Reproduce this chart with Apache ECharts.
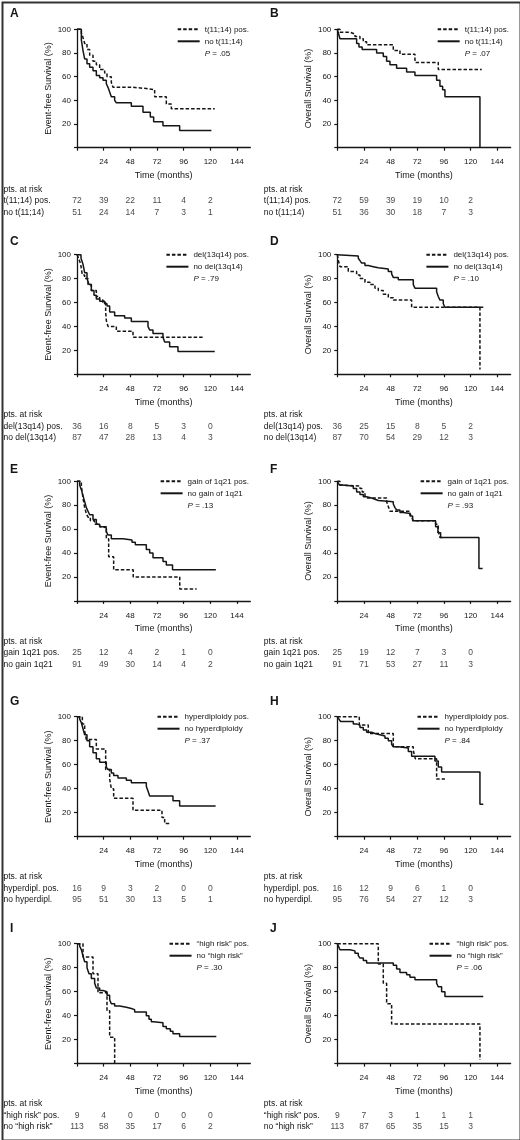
<!DOCTYPE html>
<html>
<head>
<meta charset="utf-8">
<script src="https://cdn.jsdelivr.net/npm/echarts@6/dist/echarts.min.js"></script>
<style>
  html, body { margin: 0; padding: 0; background: #fff; }
  #main { width: 520px; height: 1140px; }
</style>
</head>
<body>
<div id="main"></div>
<script>
// time points of the risk table (months)
var riskMonths = [0, 24, 48, 72, 96, 120];

// A: event-free survival, t(11;14)
var aPos = [[0,100],[3.9,97],[5.4,93],[6.9,88],[9,83],[11.4,78],[14.4,73],[17.4,70],[20.4,66],[24.9,63],[27,60],[30.9,55],[32.4,51],[50.4,50],[62.4,49],[69.9,43],[80.4,37],[84.9,33],[124,33]];
var aNeg = [[0,100],[3.9,91],[5.4,82],[6.9,75],[9,71],[11.4,68],[14.4,65],[17.4,61],[20.4,59],[23.4,57],[26.4,54],[27.9,51],[29.4,47],[30.9,43],[33.9,40],[35.4,38],[48.9,35],[59.4,30],[66,26],[69,22],[77.4,18.5],[92.4,14.5],[121,14.5]];
var aRiskPos = [72, 39, 22, 11, 4, 2];
var aRiskNeg = [51, 24, 14, 7, 3, 1];

// B: overall survival, t(11;14)
var bPos = [[0,100],[2.4,97.5],[11.4,96],[15.9,94],[20.4,92],[23.4,89.5],[26.4,87],[50.4,82],[56.4,79],[69.9,72],[90.9,66],[130,66]];
var bNeg = [[0,100],[1.2,96],[2.4,92],[17.4,88],[19.5,85],[22.4,83],[35.4,80],[41.4,77],[44.4,73],[47.4,70],[53.4,67],[62.4,64],[69.9,61],[89.4,57],[92.4,52],[94.8,49],[96.9,43],[128.4,43],[128.4,0]];
var bRiskPos = [72, 59, 39, 19, 10, 2];
var bRiskNeg = [51, 36, 30, 18, 7, 3];

// C: event-free survival, del(13q14)
var cPos = [[0,100],[1.5,97],[3.3,92],[4.8,83],[6.9,80],[9.9,75],[12.9,70],[17.4,65],[20.4,62],[23.4,60],[25.8,52],[26.4,45],[27.9,40],[35.4,36],[50.4,31],[113.4,31]];
var cNeg = [[0,100],[3.6,97],[5.4,92],[6.9,85],[9,80],[10.8,75],[12.9,70],[15.3,66],[17.4,63],[20.4,61],[24.9,59],[27,57],[29.4,52],[33.9,49],[42.9,47],[48.9,44],[63.9,40],[65.4,37],[68.4,34],[77.4,31],[78.9,27],[83.4,23],[90.9,19],[124,19]];
var cRiskPos = [36, 16, 8, 5, 3, 0];
var cRiskNeg = [87, 47, 28, 13, 4, 3];

// D: overall survival, del(13q14)
var dPos = [[0,100],[0.6,97],[1.5,93],[2.4,90],[9.9,86],[17.4,83],[20.4,80],[24.9,77],[29.4,75],[33.9,72],[36.9,70],[41.4,67],[45.9,64],[50.4,62],[66.9,56],[128.4,56],[128.4,4]];
var dNeg = [[0,100],[0.9,99],[18.9,97],[20.4,95],[21.9,93],[24.9,91],[27.9,90],[32.4,89],[36.9,88],[45.9,86],[48.9,84],[50.4,81],[54.9,79],[68.4,75],[69.9,72],[89.4,69],[90.9,65],[92.4,62],[95.4,59],[96.9,56],[131.4,56]];
var dRiskPos = [36, 25, 15, 8, 5, 2];
var dRiskNeg = [87, 70, 54, 29, 12, 3];

// E: event-free survival, gain of 1q21
var ePos = [[0,100],[3.9,96],[5.4,86],[6.9,78],[8.4,73],[9.9,70],[12,67],[15.9,64],[20.4,62],[26.4,52],[28.5,37],[33,26],[50.6,20],[92.5,10],[107.7,10]];
var eNeg = [[0,100],[2.4,97],[3.9,93],[5.4,88],[6.9,83],[8.4,78],[9.9,75],[11.4,72],[14.4,68],[17.4,64],[20.4,62],[24,61],[26.4,58],[27.9,55],[30.9,52],[41.4,51],[49.5,49],[52.5,47],[62.4,43],[65.4,40],[68.4,36],[77.4,33],[80.4,30],[86,26],[125,26]];
var eRiskPos = [25, 12, 4, 2, 1, 0];
var eRiskNeg = [91, 49, 30, 14, 4, 2];

// F: overall survival, gain of 1q21
var fPos = [[0,100],[2.4,97],[3.9,96],[20.4,94],[22.4,91],[24.9,88],[26.4,86],[44.4,83],[45.9,79],[47.4,75],[65.4,73],[67,70],[68.4,67],[88.5,64],[90.9,58],[92.4,53],[94.8,53]];
var fNeg = [[0,100],[1.8,97],[3.9,96],[14.4,94],[17.4,91],[20.4,89],[23.4,87],[26.4,86],[30.9,85],[33.9,84],[36.9,83],[50.4,81],[51.9,78],[53.4,76],[56.4,74],[59.4,73],[65.4,71],[67.8,67],[88.5,62],[90.6,57],[93,53],[127.5,53],[127.5,27],[130.8,27]];
var fRiskPos = [25, 19, 12, 7, 3, 0];
var fRiskNeg = [91, 71, 53, 27, 11, 3];

// G: event-free survival, hyperdiploidy
var gPos = [[0,100],[4.8,94],[6.9,88],[8.4,81],[17.4,73],[25.8,56],[29.4,48],[30.9,40],[33,32],[50.4,22],[76.5,16],[78.9,11],[83.4,11]];
var gNeg = [[0,100],[2.4,98],[3.9,95],[5.4,90],[6.9,85],[9,80],[11.4,75],[14.4,70],[17.4,65],[20.4,62],[26.4,58],[27.9,56],[30.9,53],[33,51],[36.9,49],[44.4,47],[48.9,45],[62.4,42],[63.9,38],[65.4,34],[86.4,30],[92.4,25.5],[124.8,25.5]];
var gRiskPos = [16, 9, 3, 2, 0, 0];
var gRiskNeg = [95, 51, 30, 13, 5, 1];

// H: overall survival, hyperdiploidy
var hPos = [[0,100],[19.8,93],[27.9,86],[50.4,75],[68.4,72],[70.2,65],[89.4,48],[96.9,48]];
var hNeg = [[0,100],[1.5,98],[3,96],[14.4,94],[17.4,93],[20.4,91],[23.4,89],[26.4,87],[30.9,86],[33.9,85],[38.4,84],[42.9,82],[45.9,80],[48.9,77],[50.4,75],[54.9,74],[63.9,71],[66.9,67],[87.9,63],[90.9,58],[93.9,54],[128.4,54],[128.4,27],[131.4,27]];
var hRiskPos = [16, 12, 9, 6, 1, 0];
var hRiskNeg = [95, 76, 54, 27, 12, 3];

// I: event-free survival, "high risk"
var iPos = [[0,100],[5.4,89],[14.4,75],[18.9,59],[27,44],[29.4,22],[33.9,22],[33.9,0]];
var iNeg = [[0,100],[2.4,98],[3.9,95],[5.4,90],[6.9,85],[9,80],[10.8,75],[12.9,71],[15.9,67],[17.4,63],[20.4,61],[23.4,60],[27,57],[29.4,53],[30.9,50],[33.9,48],[38.4,47],[44.4,46],[48.9,45],[51.9,43],[62.4,40],[64.8,37],[66.9,35],[69,34],[77.4,31],[80.4,29],[84,27],[86.4,25],[92.4,22.5],[125.4,22.5]];
var iRiskPos = [9, 4, 0, 0, 0, 0];
var iRiskNeg = [113, 58, 35, 17, 6, 2];

// J: overall survival, "high risk"
var jPos = [[0,100],[36.9,83],[41.4,67],[44.4,50],[48.9,33],[128.4,33],[128.4,3]];
var jNeg = [[0,100],[1,98],[2.4,95],[11.4,94],[15.9,92],[18.9,90],[20.4,88],[23.4,86],[26.4,84],[50.4,82],[53.4,79],[56.4,76],[62.4,74],[65.4,72],[69.9,70],[89.4,67],[90.9,64],[93.9,60],[96.9,56],[131.4,56]];
var jRiskPos = [9, 7, 3, 1, 1, 1];
var jRiskNeg = [113, 87, 65, 35, 15, 3];

var pValues = ['.05', '.07', '.79', '.10', '.13', '.93', '.37', '.84', '.30', '.06'];
var legendNames = [
    ['t(11;14) pos.', 'no t(11;14)'],
    ['del(13q14) pos.', 'no del(13q14)'],
    ['gain of 1q21 pos.', 'no gain of 1q21'],
    ['hyperdiploidy pos.', 'no hyperdiploidy'],
    ['\u201chigh risk\u201d pos.', 'no \u201chigh risk\u201d']
];
var riskLabels = [
    ['t(11;14) pos.', 'no t(11;14)'],
    ['del(13q14) pos.', 'no del(13q14)'],
    ['gain 1q21 pos.', 'no gain 1q21'],
    ['hyperdipl. pos.', 'no hyperdipl.'],
    ['\u201chigh risk\u201d pos.', 'no \u201chigh risk\u201d']
];
var yNames = ['Event-free Survival (%)', 'Overall Survival (%)'];
var letters = ['A', 'B', 'C', 'D', 'E', 'F', 'G', 'H', 'I', 'J'];
var xTicks = [0, 24, 48, 72, 96, 120, 144];

var curves = [[aPos, aNeg], [bPos, bNeg], [cPos, cNeg], [dPos, dNeg], [ePos, eNeg],
              [fPos, fNeg], [gPos, gNeg], [hPos, hNeg], [iPos, iNeg], [jPos, jNeg]];
var risks = [[aRiskPos, aRiskNeg], [bRiskPos, bRiskNeg], [cRiskPos, cRiskNeg], [dRiskPos, dRiskNeg], [eRiskPos, eRiskNeg],
             [fRiskPos, fRiskNeg], [gRiskPos, gRiskNeg], [hRiskPos, hRiskNeg], [iRiskPos, iRiskNeg], [jRiskPos, jRiskNeg]];

// layout
var FONT = '"Liberation Sans", Arial, sans-serif';
var INK = '#151515';
var rowTop = [29.3, 254.7, 481.3, 716.7, 943.7];
var rowH = [118.4, 119.5, 119.6, 120, 119.9];
var letterY = [14, 242, 470, 702, 929];
var colLeft = [77, 337.3];
var plotW = 173.3;

var grids = [], xAxes = [], yAxes = [], series = [], legends = [], graphics = [];

for (var k = 0; k < 10; k++) {
    var row = Math.floor(k / 2), col = k % 2;
    var gi = grids.length;
    // plot grid
    grids.push({left: colLeft[col], top: rowTop[row], width: plotW, height: rowH[row]});
    // risk table grid
    grids.push({left: colLeft[col], top: rowTop[row] + 160 - 5.75, width: plotW, height: 34.5});

    xAxes.push({
        gridIndex: gi, type: 'value', min: 0, max: 156, offset: 5.5,
        name: 'Time (months)', nameLocation: 'middle', nameGap: 18,
        nameTextStyle: {fontFamily: FONT, fontSize: 9, color: INK},
        axisLine: {lineStyle: {color: INK, width: 1.3}},
        axisTick: {length: 3, lineStyle: {color: INK, width: 1.2}, customValues: xTicks},
        axisLabel: {fontFamily: FONT, fontSize: 8, color: INK, margin: 5, customValues: xTicks.slice(1)},
        splitLine: {show: false}
    });
    xAxes.push({gridIndex: gi + 1, type: 'value', min: 0, max: 156, show: false});

    yAxes.push({
        gridIndex: gi, type: 'value', min: 0, max: 100, interval: 20,
        name: yNames[col], nameLocation: 'middle', nameGap: 24,
        nameTextStyle: {fontFamily: FONT, fontSize: 9, color: INK},
        axisLine: {show: true, lineStyle: {color: INK, width: 1.3}},
        axisTick: {show: true, length: 3, lineStyle: {color: INK, width: 1.2}},
        axisLabel: {fontFamily: FONT, fontSize: 8, color: INK, margin: 6,
            formatter: function (v) { return v === 0 ? '' : v; }},
        splitLine: {show: false}
    });
    yAxes.push({
        gridIndex: gi + 1, type: 'category', inverse: true,
        data: ['pts. at risk', riskLabels[row][0], riskLabels[row][1]],
        axisLine: {show: false}, axisTick: {show: false},
        axisLabel: {fontFamily: FONT, fontSize: 8.5, color: INK, align: 'left', margin: 73.5,
            interval: 0, hideOverlap: false}
    });

    var names = legendNames[row];
    var pName = 'P = ' + pValues[k];
    series.push({
        type: 'line', name: names[0], xAxisIndex: gi, yAxisIndex: gi,
        data: curves[k][0], step: 'end', symbol: 'none', clip: false, silent: true,
        lineStyle: {color: INK, width: 1.5, type: [3.5, 2]}, itemStyle: {color: INK}
    });
    series.push({
        type: 'line', name: names[1], xAxisIndex: gi, yAxisIndex: gi,
        data: curves[k][1], step: 'end', symbol: 'none', clip: false, silent: true,
        lineStyle: {color: INK, width: 1.5}, itemStyle: {color: INK}
    });
    series.push({
        type: 'line', name: pName, xAxisIndex: gi, yAxisIndex: gi, data: [],
        symbol: 'none', lineStyle: {opacity: 0}, itemStyle: {opacity: 0}
    });

    for (var r = 0; r < 2; r++) {
        var pts = [];
        for (var m = 0; m < riskMonths.length; m++) {
            pts.push([riskMonths[m], r + 1, risks[k][r][m]]);
        }
        series.push({
            type: 'scatter', xAxisIndex: gi + 1, yAxisIndex: gi + 1, data: pts,
            symbolSize: 1, itemStyle: {color: 'rgba(0,0,0,0)'}, silent: true,
            label: {show: true, position: 'inside', fontFamily: FONT, fontSize: 8.5, color: INK,
                formatter: function (p) { return p.value[2]; }}
        });
    }

    legends.push({
        orient: 'vertical', align: 'left', padding: 0,
        right: col === 0 ? 271 : 11, top: rowTop[row] - 4,
        itemWidth: 22, itemHeight: 8, itemGap: 4, selectedMode: false,
        itemStyle: {opacity: 0},
        data: [names[0], names[1], {name: pName, icon: 'none'}],
        textStyle: {fontFamily: FONT, fontSize: 8, color: INK,
            rich: {i: {fontFamily: FONT, fontSize: 8, fontStyle: 'italic', color: INK}}},
        formatter: function (n) { return n.indexOf('P = ') === 0 ? '{i|P}' + n.slice(1) : n; }
    });

    graphics.push({
        type: 'text', left: col === 0 ? 10 : 270, top: letterY[row] - 6,
        style: {text: letters[k], font: 'bold 12px ' + FONT, fill: INK}
    });
}

graphics.push({
    type: 'rect', left: 0, top: 0, silent: true,
    shape: {x: 1, y: 1, width: 518, height: 1138},
    style: {fill: 'none', stroke: '#333', lineWidth: 2}
});

var chart = echarts.init(document.getElementById('main'));
chart.setOption({
    animation: false,
    backgroundColor: '#fff',
    grid: grids,
    xAxis: xAxes,
    yAxis: yAxes,
    legend: legends,
    series: series,
    graphic: graphics
});
</script>
</body>
</html>
